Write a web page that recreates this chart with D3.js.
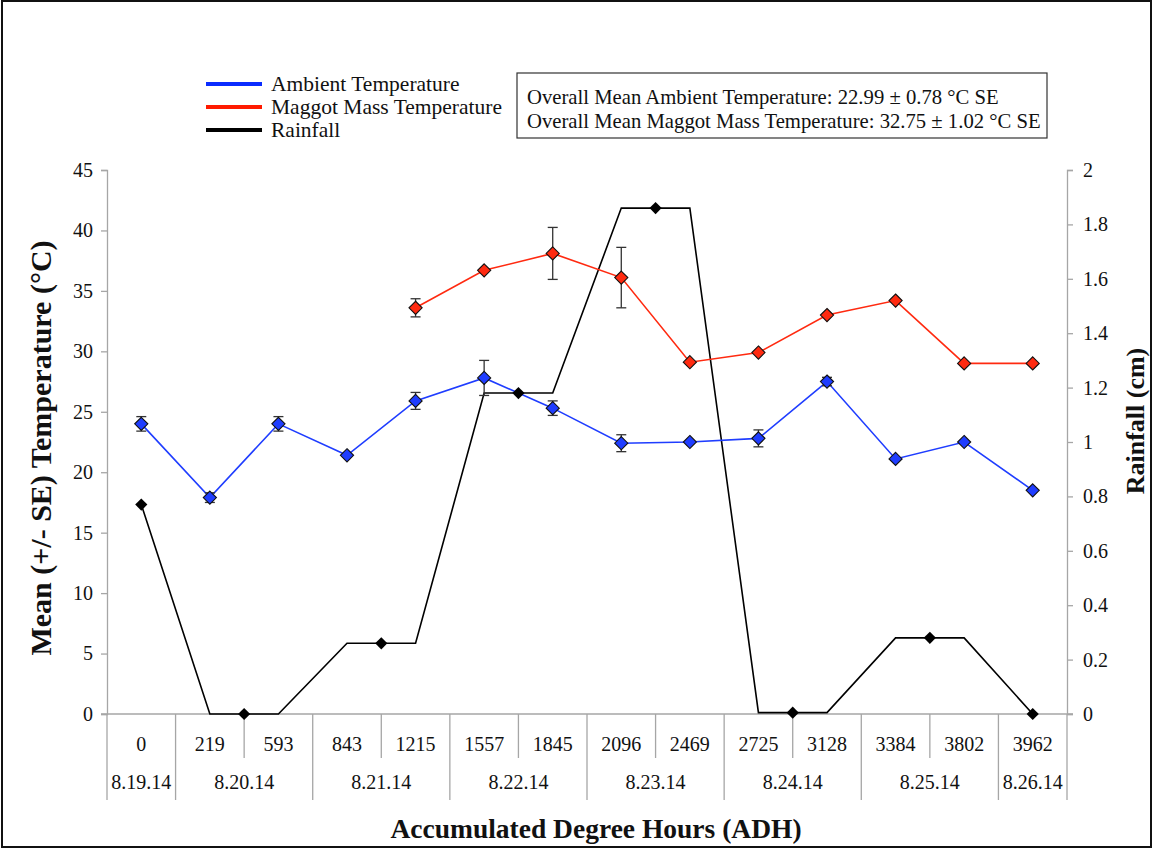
<!DOCTYPE html>
<html>
<head>
<meta charset="utf-8">
<script src="https://cdn.jsdelivr.net/npm/d3@7/dist/d3.min.js"></script>
<style>
  html, body { margin: 0; padding: 0; background: #fff; }
  svg { display: block; font-family: "Liberation Serif", "Times New Roman", serif; }
</style>
</head>
<body>
<svg id="chart" width="1153" height="849"></svg>
<script>
// Accumulated degree hours for each sampling point
const adhLabels = ["0", "219", "593", "843", "1215", "1557", "1845", "2096", "2469", "2725", "3128", "3384", "3802", "3962"];
// Calendar dates and which date each sampling point belongs to
const dates = ["8.19.14", "8.20.14", "8.21.14", "8.22.14", "8.23.14", "8.24.14", "8.25.14", "8.26.14"];
const dateIndex = [0, 1, 1, 2, 2, 3, 3, 4, 4, 5, 5, 6, 6, 7];

// Mean ambient temperature (°C) and its SE
const ambient = [24.0, 17.9, 24.0, 21.4, 25.9, 27.8, 25.3, 22.4, 22.5, 22.8, 27.5, 21.1, 22.5, 18.5];
const ambientSE = [0.6, 0.4, 0.6, 0, 0.7, 1.45, 0.6, 0.7, 0, 0.7, 0.35, 0, 0, 0];
// Mean maggot mass temperature (°C) and its SE (mass not yet formed for the first points)
const maggot = [null, null, null, null, 33.6, 36.7, 38.1, 36.1, 29.1, 29.9, 33.0, 34.2, 29.0, 29.0];
const maggotSE = [0, 0, 0, 0, 0.75, 0, 2.15, 2.5, 0, 0, 0, 0, 0, 0];
// Daily rainfall (cm)
const rainfall = [0.77, 0, 0.26, 1.18, 1.86, 0.005, 0.28, 0];

const leftTicks = [0, 5, 10, 15, 20, 25, 30, 35, 40, 45];
const rightTicks = [0, 0.2, 0.4, 0.6, 0.8, 1, 1.2, 1.4, 1.6, 1.8, 2];

(function draw() {
  const svg = d3.select("#chart");
  const pLeft = 107, pRight = 1067, pTop = 170, pBottom = 714;
  const axisGray = "#a6a6a6";
  const blue = "#1f3dff", red = "#ff2a10";

  // outer frame
  svg.append("rect").attr("x", 2).attr("y", 1).attr("width", 1149).attr("height", 846)
    .attr("fill", "none").attr("stroke", "#111").attr("stroke-width", 2);

  const x = d3.scaleBand().domain(d3.range(adhLabels.length)).range([pLeft, pRight]);
  const cx = i => x(i) + x.bandwidth() / 2;
  const yL = d3.scaleLinear().domain([0, 45]).range([pBottom, pTop]);
  const yR = d3.scaleLinear().domain([0, 2]).range([pBottom, pTop]);

  // left axis
  const gL = svg.append("g").attr("transform", `translate(${pLeft},0)`)
    .call(d3.axisLeft(yL).tickValues(leftTicks).tickSize(6).tickPadding(8).tickFormat(d3.format("d")));
  // right axis
  const gR = svg.append("g").attr("transform", `translate(${pRight},0)`)
    .call(d3.axisRight(yR).tickValues(rightTicks).tickSize(6).tickPadding(10).tickFormat(d => String(+d.toFixed(1))));
  [gL, gR].forEach(g => {
    g.select(".domain").attr("stroke", axisGray).attr("stroke-width", 1.3);
    g.selectAll(".tick line").attr("stroke", axisGray).attr("stroke-width", 1.3);
    g.selectAll(".tick text").attr("font-size", 20).attr("fill", "#111")
      .attr("font-family", "Liberation Serif, Times New Roman, serif");
  });

  // category axis line and table separators
  svg.append("line").attr("x1", pLeft - 6).attr("x2", pRight + 6).attr("y1", pBottom).attr("y2", pBottom)
    .attr("stroke", axisGray).attr("stroke-width", 1.3);
  for (let b = 0; b <= adhLabels.length; b++) {
    const isDateEdge = b === 0 || b === adhLabels.length || dateIndex[b] !== dateIndex[b - 1];
    const bx = b === adhLabels.length ? pRight : x(b);
    svg.append("line").attr("x1", bx).attr("x2", bx).attr("y1", pBottom)
      .attr("y2", isDateEdge ? 800 : 758).attr("stroke", axisGray).attr("stroke-width", 1.3);
  }
  svg.append("g").selectAll("text").data(adhLabels).join("text")
    .attr("x", (d, i) => cx(i)).attr("y", 751).attr("text-anchor", "middle")
    .attr("font-size", 20).attr("fill", "#111").text(d => d);
  const dateSpans = dates.map((d, j) => {
    const idx = d3.range(adhLabels.length).filter(i => dateIndex[i] === j);
    return { label: d, x0: x(idx[0]), x1: x(idx[idx.length - 1]) + x.bandwidth(),
             c: (cx(idx[0]) + cx(idx[idx.length - 1])) / 2 };
  });
  svg.append("g").selectAll("text").data(dateSpans).join("text")
    .attr("x", d => (d.x0 + d.x1) / 2).attr("y", 789).attr("text-anchor", "middle")
    .attr("font-size", 20).attr("fill", "#111").text(d => d.label);

  // axis titles
  svg.append("text").attr("x", 596).attr("y", 838).attr("text-anchor", "middle")
    .attr("font-size", 27.5).attr("font-weight", "bold").attr("fill", "#111")
    .text("Accumulated Degree Hours (ADH)");
  svg.append("text").attr("transform", `translate(51,448) rotate(-90)`)
    .attr("text-anchor", "middle").attr("font-size", 30).attr("font-weight", "bold").attr("fill", "#111")
    .text("Mean (+/- SE) Temperature (°C)");
  svg.append("text").attr("transform", `translate(1144,421) rotate(-90)`)
    .attr("text-anchor", "middle").attr("font-size", 26).attr("font-weight", "bold").attr("fill", "#111")
    .text("Rainfall (cm)");

  // rainfall: flat across each date's sampling points, marker at the date centre
  const rainPts = adhLabels.map((d, i) => [cx(i), yR(rainfall[dateIndex[i]])]);
  svg.append("path").attr("d", d3.line()(rainPts)).attr("fill", "none")
    .attr("stroke", "#000").attr("stroke-width", 1.6);

  const diamond = d3.symbol().type(d3.symbolDiamond2);

  function drawSeries(values, errs, color) {
    const pts = values.map((v, i) => ({ i, v, e: errs[i] })).filter(p => p.v !== null);
    svg.append("path").attr("d", d3.line().x(p => cx(p.i)).y(p => yL(p.v))(pts))
      .attr("fill", "none").attr("stroke", color).attr("stroke-width", 1.6);
    const eb = svg.append("g").attr("stroke", "#333").attr("stroke-width", 1.3);
    pts.filter(p => p.e > 0).forEach(p => {
      const px = cx(p.i), y0 = yL(p.v - p.e), y1 = yL(p.v + p.e);
      eb.append("line").attr("x1", px).attr("x2", px).attr("y1", y0).attr("y2", y1);
      eb.append("line").attr("x1", px - 5).attr("x2", px + 5).attr("y1", y0).attr("y2", y0);
      eb.append("line").attr("x1", px - 5).attr("x2", px + 5).attr("y1", y1).attr("y2", y1);
    });
    svg.append("g").selectAll("path").data(pts).join("path")
      .attr("d", diamond.size(110)())
      .attr("transform", p => `translate(${cx(p.i)},${yL(p.v)})`)
      .attr("fill", color).attr("stroke", "#111").attr("stroke-width", 1.1);
  }
  drawSeries(maggot, maggotSE, red);
  drawSeries(ambient, ambientSE, blue);

  svg.append("g").selectAll("path").data(dateSpans).join("path")
    .attr("d", diamond.size(95)())
    .attr("transform", (d, j) => `translate(${d.c},${yR(rainfall[j])})`)
    .attr("fill", "#000");

  // legend
  const legend = [["Ambient Temperature", "#0a2cff"], ["Maggot Mass Temperature", "#ff1a00"], ["Rainfall", "#000"]];
  legend.forEach(([label, color], k) => {
    const ly = 84 + k * 23;
    svg.append("line").attr("x1", 206).attr("x2", 262).attr("y1", ly).attr("y2", ly)
      .attr("stroke", color).attr("stroke-width", 4);
    svg.append("text").attr("x", 271).attr("y", ly + 7).attr("font-size", 21.5).attr("fill", "#111").text(label);
  });

  // summary box
  svg.append("rect").attr("x", 517).attr("y", 73).attr("width", 530).attr("height", 65)
    .attr("fill", "#fff").attr("stroke", "#333").attr("stroke-width", 1.2);
  ["Overall Mean Ambient Temperature: 22.99 ± 0.78 °C SE",
   "Overall Mean Maggot Mass Temperature: 32.75 ± 1.02 °C SE"].forEach((t, k) => {
    svg.append("text").attr("x", 527).attr("y", 104 + k * 24).attr("font-size", 20.7).attr("fill", "#111").text(t);
  });
})();
</script>
</body>
</html>
